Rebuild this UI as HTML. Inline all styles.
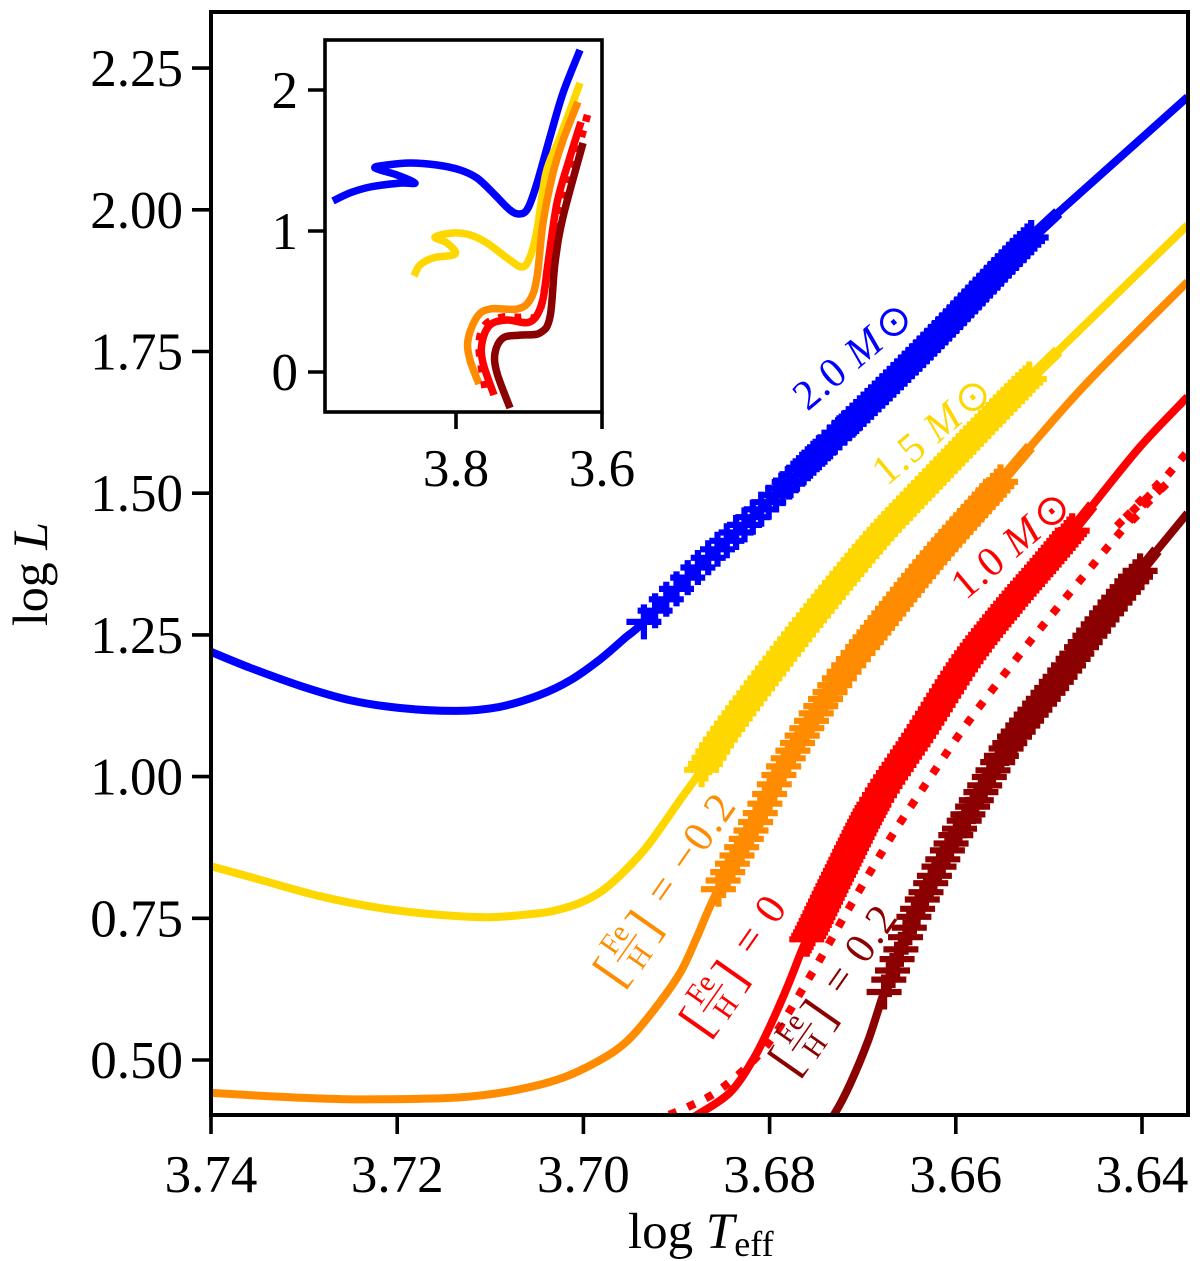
<!DOCTYPE html>
<html lang="en">
<head>
<meta charset="utf-8">
<title>HR diagram tracks</title>
<style>
html,body{margin:0;padding:0;background:#fff;}
svg{display:block;}
text{font-family:"Liberation Serif","DejaVu Serif",serif;}
</style>
</head>
<body>
<svg id="chart" xmlns="http://www.w3.org/2000/svg" width="1200" height="1261" viewBox="0 0 1200 1261">
  <defs>
    <clipPath id="main-clip"><rect x="211" y="12" width="977" height="1103"/></clipPath>
  </defs>
  <g id="main-series" clip-path="url(#main-clip)"></g>

  <g font-size="42" letter-spacing="1">
    <text fill="#0000ff" text-anchor="middle" transform="translate(862,366) rotate(-40)">2.0 <tspan font-style="italic">M</tspan><tspan font-family="DejaVu Sans" dx="3">⊙</tspan></text>
    <text fill="#ffd700" text-anchor="middle" transform="translate(941,441) rotate(-40)">1.5 <tspan font-style="italic">M</tspan><tspan font-family="DejaVu Sans" dx="3">⊙</tspan></text>
    <text fill="#ff0000" text-anchor="middle" transform="translate(1020,555) rotate(-40)">1.0 <tspan font-style="italic">M</tspan><tspan font-family="DejaVu Sans" dx="3">⊙</tspan></text>
  </g>

  <g fill="#ff8c00" transform="translate(627,948) rotate(-55)">
    <text x="-29" y="17" font-size="52" text-anchor="middle">[</text>
    <text x="0" y="-6" font-size="29" text-anchor="middle">Fe</text>
    <rect x="-17" y="-1" width="34" height="1.6"/>
    <text x="0" y="25" font-size="29" text-anchor="middle">H</text>
    <text x="29" y="17" font-size="52" text-anchor="middle">]</text>
    <text x="56" y="9" font-size="43" letter-spacing="2">= −0.2</text>
  </g>
  <g fill="#ff0000" transform="translate(713,998) rotate(-55)">
    <text x="-29" y="17" font-size="52" text-anchor="middle">[</text>
    <text x="0" y="-6" font-size="29" text-anchor="middle">Fe</text>
    <rect x="-17" y="-1" width="34" height="1.6"/>
    <text x="0" y="25" font-size="29" text-anchor="middle">H</text>
    <text x="29" y="17" font-size="52" text-anchor="middle">]</text>
    <text x="56" y="10" font-size="43" letter-spacing="2">= 0</text>
  </g>
  <g fill="#8b0000" transform="translate(802,1037) rotate(-55)">
    <text x="-29" y="17" font-size="52" text-anchor="middle">[</text>
    <text x="0" y="-6" font-size="29" text-anchor="middle">Fe</text>
    <rect x="-17" y="-1" width="34" height="1.6"/>
    <text x="0" y="25" font-size="29" text-anchor="middle">H</text>
    <text x="29" y="17" font-size="52" text-anchor="middle">]</text>
    <text x="56" y="11" font-size="43" letter-spacing="2">= 0.2</text>
  </g>

  <rect x="211" y="12" width="977" height="1103" fill="none" stroke="#000" stroke-width="4"/>
  <g id="main-axes"></g>

  <text x="628" y="1248" font-size="51">log <tspan font-style="italic">T</tspan><tspan font-size="36" dy="8">eff</tspan></text>
  <text text-anchor="middle" font-size="50" transform="translate(47,574) rotate(-90)">log <tspan font-style="italic">L</tspan></text>

  <g>
    <rect x="325" y="40" width="277" height="372" fill="#fff"/>
    <g id="inset-series"></g>
    <rect x="325" y="40" width="277" height="372" fill="none" stroke="#000" stroke-width="3.6"/>
    <g id="inset-axes"></g>
  </g>
</svg>

<script>
// ---------- main axis ticks ----------
const xTickValues = [3.74, 3.72, 3.70, 3.68, 3.66, 3.64];
const xTickLabels = ['3.74', '3.72', '3.70', '3.68', '3.66', '3.64'];
const yTickValues = [0.5, 0.75, 1.0, 1.25, 1.5, 1.75, 2.0, 2.25];
const yTickLabels = ['0.50', '0.75', '1.00', '1.25', '1.50', '1.75', '2.00', '2.25'];

// ---------- inset axis ticks ----------
const insetXTickValues = [3.8, 3.6];
const insetXTickLabels = ['3.8', '3.6'];
const insetYTickValues = [0, 1, 2];
const insetYTickLabels = ['0', '1', '2'];

// ---------- main tracks (log Teff, log L) ----------
const blueT = [3.7400,3.7358,3.7304,3.7251,3.7197,3.7136,3.7090,3.7047,3.7014,3.6982,3.6955,3.6935,3.6875,3.6810,3.6746,3.6681,3.6617,3.6553,3.6514,3.6445,3.6351];
const blueL = [1.220,1.192,1.160,1.135,1.121,1.116,1.123,1.144,1.170,1.207,1.245,1.273,1.372,1.470,1.573,1.677,1.783,1.894,1.959,2.061,2.199];
const yellowT = [3.7400,3.7347,3.7283,3.7218,3.7154,3.7100,3.7047,3.7025,3.7004,3.6982,3.6961,3.6932,3.6896,3.6873,3.6851,3.6812,3.6757,3.6692,3.6660,3.6628,3.6544,3.6520,3.6445,3.6351];
const yellowL = [0.842,0.818,0.789,0.768,0.756,0.752,0.759,0.766,0.777,0.796,0.825,0.876,0.959,1.012,1.070,1.158,1.276,1.407,1.465,1.520,1.664,1.703,1.823,1.973];
const orangeT = [3.7400,3.7326,3.7261,3.7197,3.7133,3.7079,3.7025,3.6982,3.6952,3.6923,3.6896,3.6878,3.6857,3.6814,3.6787,3.6759,3.6735,3.6705,3.6626,3.6553,3.6520,3.6456,3.6351];
const orangeL = [0.442,0.435,0.431,0.431,0.434,0.445,0.467,0.500,0.535,0.591,0.654,0.717,0.795,0.923,1.012,1.088,1.149,1.218,1.382,1.518,1.582,1.700,1.873];
const redT = [3.6896,3.6878,3.6843,3.6818,3.6800,3.6781,3.6764,3.6753,3.6725,3.6685,3.6638,3.6588,3.6542,3.6501,3.6470,3.6453,3.6402,3.6351];
const redL = [0.387,0.403,0.442,0.500,0.558,0.629,0.699,0.735,0.830,0.959,1.077,1.206,1.303,1.382,1.444,1.479,1.582,1.670];
const dottedT = [3.6928,3.6888,3.6850,3.6803,3.6757,3.6714,3.6670,3.6635,3.6586,3.6520,3.6452,3.6424,3.6357,3.6343];
const dottedL = [0.391,0.417,0.452,0.526,0.646,0.770,0.892,0.980,1.098,1.239,1.375,1.430,1.562,1.585];
const darkT = [3.6741,3.6731,3.6714,3.6694,3.6677,3.6663,3.6646,3.6627,3.6604,3.6576,3.6547,3.6515,3.6488,3.6445,3.6401,3.6351];
const darkL = [0.385,0.403,0.456,0.535,0.620,0.678,0.749,0.812,0.885,0.964,1.047,1.118,1.176,1.273,1.365,1.465];

// ---------- plus-marker positions along each track (log Teff) ----------
const blueMarks = [3.6935,3.6923,3.6911,3.6900,3.6888,3.6877,3.6866,3.6856,3.6846,3.6836,3.6827,3.6818,3.6809,3.6801,3.6793,3.6786,3.6779,3.6772,3.6765,3.6759,3.6753,3.6747,3.6741,3.6735,3.6730,3.6725,3.6720,3.6715,3.6711,3.6707,3.6703,3.6699,3.6695,3.6691,3.6687,3.6683,3.6679,3.6675,3.6671,3.6667,3.6663,3.6659,3.6655,3.6651,3.6647,3.6643,3.6639,3.6635,3.6631,3.6627,3.6623,3.6619,3.6615,3.6611,3.6607,3.6603,3.6599,3.6595,3.6591,3.6587,3.6583,3.6579,3.6575,3.6571,3.6567,3.6563,3.6559,3.6555,3.6551,3.6547,3.6543,3.6539,3.6535,3.6531,3.6527,3.6523,3.6519];
const yellowMarks = [3.6873,3.6869,3.6865,3.6861,3.6857,3.6853,3.6849,3.6845,3.6841,3.6837,3.6833,3.6829,3.6825,3.6821,3.6817,3.6813,3.6809,3.6805,3.6801,3.6797,3.6793,3.6789,3.6785,3.6781,3.6777,3.6773,3.6769,3.6765,3.6761,3.6757,3.6753,3.6749,3.6745,3.6741,3.6737,3.6733,3.6729,3.6725,3.6721,3.6717,3.6713,3.6709,3.6705,3.6701,3.6697,3.6693,3.6689,3.6685,3.6681,3.6677,3.6673,3.6669,3.6665,3.6661,3.6657,3.6653,3.6649,3.6645,3.6641,3.6637,3.6633,3.6629,3.6625,3.6621,3.6617,3.6613,3.6609,3.6605,3.6601,3.6597,3.6593,3.6589,3.6585,3.6581,3.6577,3.6573,3.6569,3.6565,3.6561,3.6557,3.6553,3.6549,3.6545,3.6541,3.6537,3.6533,3.6529,3.6525,3.6521];
const orangeMarks = [3.6855,3.6850,3.6845,3.6840,3.6835,3.6830,3.6825,3.6820,3.6815,3.6810,3.6805,3.6800,3.6795,3.6790,3.6785,3.6780,3.6775,3.6770,3.6765,3.6760,3.6755,3.6750,3.6745,3.6740,3.6735,3.6730,3.6725,3.6720,3.6715,3.6710,3.6705,3.6700,3.6696,3.6692,3.6688,3.6684,3.6680,3.6676,3.6672,3.6668,3.6664,3.6660,3.6656,3.6652,3.6648,3.6644,3.6640,3.6636,3.6632,3.6628,3.6624,3.6620,3.6616,3.6612,3.6608,3.6604,3.6600,3.6596,3.6592,3.6588,3.6584,3.6580,3.6576,3.6572,3.6568,3.6564,3.6560,3.6556,3.6552];
const redMarks = [3.6760,3.6758,3.6756,3.6754,3.6752,3.6750,3.6748,3.6746,3.6744,3.6742,3.6740,3.6738,3.6736,3.6734,3.6732,3.6730,3.6728,3.6726,3.6724,3.6722,3.6720,3.6718,3.6716,3.6714,3.6712,3.6710,3.6708,3.6706,3.6704,3.6702,3.6700,3.6698,3.6696,3.6694,3.6692,3.6690,3.6688,3.6685,3.6682,3.6679,3.6676,3.6673,3.6670,3.6667,3.6664,3.6661,3.6658,3.6655,3.6652,3.6649,3.6646,3.6643,3.6640,3.6637,3.6634,3.6631,3.6628,3.6625,3.6622,3.6619,3.6616,3.6613,3.6610,3.6607,3.6604,3.6601,3.6598,3.6595,3.6592,3.6589,3.6586,3.6583,3.6580,3.6577,3.6574,3.6571,3.6568,3.6565,3.6562,3.6559,3.6556,3.6553,3.6550,3.6547,3.6544,3.6541,3.6538,3.6535,3.6532,3.6529,3.6526,3.6523,3.6520,3.6517,3.6514,3.6511,3.6508,3.6505,3.6502,3.6499,3.6496,3.6493,3.6490,3.6487,3.6484,3.6481,3.6478,3.6475];
const darkMarks = [3.6677,3.6672,3.6668,3.6663,3.6659,3.6654,3.6650,3.6645,3.6641,3.6636,3.6632,3.6627,3.6623,3.6618,3.6614,3.6609,3.6605,3.6600,3.6596,3.6591,3.6587,3.6582,3.6578,3.6573,3.6569,3.6564,3.6560,3.6555,3.6551,3.6546,3.6542,3.6537,3.6533,3.6528,3.6524,3.6519,3.6515,3.6510,3.6506,3.6501,3.6497,3.6492,3.6488,3.6483,3.6479,3.6474,3.6470,3.6465,3.6461,3.6456,3.6452,3.6447,3.6443,3.6438,3.6434,3.6429,3.6425,3.6420,3.6416,3.6411,3.6407,3.6402];

// ---------- thicker end-of-band stubs (start and end log Teff) ----------
const blueStub = [3.6525, 3.6490];
const yellowStub = [3.6525, 3.6490];
const orangeStub = [3.6556, 3.6520];
const redStub = [3.6480, 3.6453];
const darkStub = [3.6410, 3.6384];

// ---------- stray end-of-track dots on the dotted track ----------
const dottedExtraT = [3.6424,3.6415,3.6408,3.6408,3.6394,3.6394,3.6402,3.6384,3.6377,3.6381];
const dottedExtraL = [1.447,1.462,1.456,1.472,1.483,1.493,1.486,1.514,1.511,1.506];

// ---------- inset tracks (log Teff, log L) ----------
const insetBlueT = [3.9685,3.9452,3.9178,3.8767,3.8562,3.8808,3.9110,3.8945,3.8630,3.8260,3.7945,3.7712,3.7493,3.7260,3.7123,3.7014,3.6890,3.6712,3.6534,3.6301];
const insetBlueL = [1.213,1.270,1.312,1.340,1.340,1.397,1.447,1.468,1.482,1.468,1.433,1.376,1.270,1.149,1.121,1.163,1.340,1.667,1.979,2.284];
const insetYellowT = [3.8575,3.8493,3.8315,3.8014,3.8123,3.8288,3.8041,3.7808,3.7575,3.7301,3.7096,3.6986,3.6890,3.6767,3.6575,3.6301];
const insetYellowL = [0.681,0.759,0.809,0.837,0.915,0.957,0.986,0.972,0.915,0.809,0.745,0.816,1.007,1.411,1.666,2.050];
const insetOrangeT = [3.7685,3.7808,3.7836,3.7712,3.7534,3.7164,3.6986,3.6890,3.6808,3.6671,3.6534,3.6329];
const insetOrangeL = [-0.085,0.085,0.227,0.390,0.447,0.447,0.511,0.674,1.057,1.411,1.645,1.915];
const insetRedT = [3.7479,3.7630,3.7644,3.7534,3.7301,3.6986,3.6822,3.6740,3.6616,3.6438,3.6288];
const insetRedL = [-0.163,0.064,0.206,0.333,0.369,0.355,0.489,0.773,1.199,1.525,1.773];
const insetDottedT = [3.7603,3.7685,3.7603,3.7356,3.7082,3.6849,3.6671,3.6479,3.6192];
const insetDottedL = [-0.113,0.177,0.333,0.390,0.390,0.440,0.957,1.291,1.837];
const insetDarkT = [3.7260,3.7438,3.7466,3.7356,3.7123,3.6849,3.6712,3.6644,3.6534,3.6260];
const insetDarkL = [-0.255,-0.007,0.135,0.241,0.262,0.277,0.390,0.773,1.099,1.624];

// ---------- axis functions ----------
function xMain(t) { return 211 + (3.74 - t) * 9310; }
function yMain(l) { return 1060 - (l - 0.5) * 566.8; }
function xInset(t) { return 602 - (t - 3.6) * 730; }
function yInset(l) { return 372 - l * 141; }

const SVGNS = 'http://www.w3.org/2000/svg';

function splinePath(ts, ls, xf, yf) {
  const p = ts.map(function (t, i) { return [xf(t), yf(ls[i])]; });
  let d = 'M' + p[0][0].toFixed(1) + ' ' + p[0][1].toFixed(1);
  for (let i = 0; i < p.length - 1; i++) {
    const a = p[Math.max(i - 1, 0)], b = p[i], c = p[i + 1], e = p[Math.min(i + 2, p.length - 1)];
    const c1x = b[0] + (c[0] - a[0]) / 6, c1y = b[1] + (c[1] - a[1]) / 6;
    const c2x = c[0] - (e[0] - b[0]) / 6, c2y = c[1] - (e[1] - b[1]) / 6;
    d += 'C' + c1x.toFixed(1) + ' ' + c1y.toFixed(1) + ' ' + c2x.toFixed(1) + ' ' + c2y.toFixed(1) + ' ' + c[0].toFixed(1) + ' ' + c[1].toFixed(1);
  }
  return d;
}

function bez(p0, p1, p2, p3, u) {
  const v = 1 - u;
  return v * v * v * p0 + 3 * v * v * u * p1 + 3 * v * u * u * p2 + u * u * u * p3;
}

// luminosity on the same spline that draws the track, at temperature t
function lumAt(ts, ls, t) {
  for (let i = 0; i < ts.length - 1; i++) {
    if (t <= ts[i] && t >= ts[i + 1]) {
      const im = Math.max(i - 1, 0), ip = Math.min(i + 2, ts.length - 1);
      const t1 = ts[i] + (ts[i + 1] - ts[im]) / 6, t2 = ts[i + 1] - (ts[ip] - ts[i]) / 6;
      const l1 = ls[i] + (ls[i + 1] - ls[im]) / 6, l2 = ls[i + 1] - (ls[ip] - ls[i]) / 6;
      let lo = 0, hi = 1;
      for (let k = 0; k < 30; k++) {
        const m = (lo + hi) / 2;
        if (bez(ts[i], t1, t2, ts[i + 1], m) > t) lo = m; else hi = m;
      }
      return bez(ls[i], l1, l2, ls[i + 1], (lo + hi) / 2);
    }
  }
  return ls[ls.length - 1];
}

function drawTrack(parent, ts, ls, xf, yf, color, width, dash, name) {
  const el = document.createElementNS(SVGNS, 'path');
  el.setAttribute('d', splinePath(ts, ls, xf, yf));
  el.setAttribute('fill', 'none');
  el.setAttribute('stroke', color);
  el.setAttribute('stroke-width', width);
  el.setAttribute('stroke-linejoin', 'round');
  if (dash) el.setAttribute('stroke-dasharray', dash);
  
  
  parent.appendChild(el);
}

function drawMarks(parent, marks, ts, ls, color, name) {
  marks.forEach(function (t) {
    const x = xMain(t), y = yMain(lumAt(ts, ls, t));
    const el = document.createElementNS(SVGNS, 'path');
    el.setAttribute('d', 'M' + (x - 17.5).toFixed(1) + ' ' + y.toFixed(1) + 'H' + (x + 17.5).toFixed(1) + 'M' + x.toFixed(1) + ' ' + (y - 17.5).toFixed(1) + 'V' + (y + 17.5).toFixed(1));
    el.setAttribute('fill', 'none');
    el.setAttribute('stroke', color);
    el.setAttribute('stroke-width', '6.2');
    
    
    parent.appendChild(el);
  });
}

function drawStub(parent, stub, ts, ls, color, name) {
  const el = document.createElementNS(SVGNS, 'line');
  el.setAttribute('x1', xMain(stub[0]));
  el.setAttribute('y1', yMain(lumAt(ts, ls, stub[0])));
  el.setAttribute('x2', xMain(stub[1]));
  el.setAttribute('y2', yMain(lumAt(ts, ls, stub[1])));
  el.setAttribute('stroke', color);
  el.setAttribute('stroke-width', '12');
  
  
  parent.appendChild(el);
}

function drawTick(parent, x1, y1, x2, y2, name) {
  const el = document.createElementNS(SVGNS, 'line');
  el.setAttribute('x1', x1);
  el.setAttribute('y1', y1);
  el.setAttribute('x2', x2);
  el.setAttribute('y2', y2);
  el.setAttribute('stroke', '#000');
  el.setAttribute('stroke-width', '3.6');
  
  
  parent.appendChild(el);
}

function drawLabel(parent, x, y, anchor, str, name) {
  const el = document.createElementNS(SVGNS, 'text');
  el.setAttribute('x', x);
  el.setAttribute('y', y);
  el.setAttribute('text-anchor', anchor);
  el.setAttribute('font-size', '53');
  el.textContent = str;
  
  
  parent.appendChild(el);
}

// ---------- main plot ----------
const mainG = document.getElementById('main-series');
drawTrack(mainG, blueT, blueL, xMain, yMain, '#0000ff', 8, null, 'track-2-0-msun');
drawStub(mainG, blueStub, blueT, blueL, '#0000ff', 'stub-2-0-msun');
drawMarks(mainG, blueMarks, blueT, blueL, '#0000ff', 'marker-2-0-msun');
drawTrack(mainG, yellowT, yellowL, xMain, yMain, '#ffd700', 8, null, 'track-1-5-msun');
drawStub(mainG, yellowStub, yellowT, yellowL, '#ffd700', 'stub-1-5-msun');
drawMarks(mainG, yellowMarks, yellowT, yellowL, '#ffd700', 'marker-1-5-msun');
drawTrack(mainG, orangeT, orangeL, xMain, yMain, '#ff8c00', 8, null, 'track-feh-minus-0-2');
drawStub(mainG, orangeStub, orangeT, orangeL, '#ff8c00', 'stub-feh-minus-0-2');
drawMarks(mainG, orangeMarks, orangeT, orangeL, '#ff8c00', 'marker-feh-minus-0-2');
drawTrack(mainG, redT, redL, xMain, yMain, '#ff0000', 8, null, 'track-feh-0');
drawStub(mainG, redStub, redT, redL, '#ff0000', 'stub-feh-0');
drawMarks(mainG, redMarks, redT, redL, '#ff0000', 'marker-feh-0');
drawTrack(mainG, dottedT, dottedL, xMain, yMain, '#ff0000', 8, '8 12', 'track-1-0-msun-dotted');
dottedExtraT.forEach(function (t, i) {
  const el = document.createElementNS(SVGNS, 'rect');
  el.setAttribute('x', xMain(t) - 4);
  el.setAttribute('y', yMain(dottedExtraL[i]) - 4);
  el.setAttribute('width', 8);
  el.setAttribute('height', 8);
  el.setAttribute('fill', '#ff0000');
  el.setAttribute('transform', 'rotate(45 ' + xMain(t) + ' ' + yMain(dottedExtraL[i]) + ')');
  
  
  mainG.appendChild(el);
});
drawTrack(mainG, darkT, darkL, xMain, yMain, '#8b0000', 8, null, 'track-feh-0-2');
drawStub(mainG, darkStub, darkT, darkL, '#8b0000', 'stub-feh-0-2');
drawMarks(mainG, darkMarks, darkT, darkL, '#8b0000', 'marker-feh-0-2');

// ---------- main axes ----------
const axG = document.getElementById('main-axes');
xTickValues.forEach(function (v, i) {
  const x = xMain(v);
  drawTick(axG, x, 1115, x, 1134, 'x-tick');
  drawLabel(axG, x, 1192, 'middle', xTickLabels[i], 'x-tick-label');
});
yTickValues.forEach(function (v, i) {
  const y = yMain(v);
  drawTick(axG, 192, y, 211, y, 'y-tick');
  drawLabel(axG, 183, y + 18, 'end', yTickLabels[i], 'y-tick-label');
});

// ---------- inset ----------
const inG = document.getElementById('inset-series');
drawTrack(inG, insetBlueT, insetBlueL, xInset, yInset, '#0000ff', 7.5, null, 'inset-track-2-0-msun');
drawTrack(inG, insetYellowT, insetYellowL, xInset, yInset, '#ffd700', 7.5, null, 'inset-track-1-5-msun');
drawTrack(inG, insetOrangeT, insetOrangeL, xInset, yInset, '#ff8c00', 7.5, null, 'inset-track-feh-minus-0-2');
drawTrack(inG, insetDottedT, insetDottedL, xInset, yInset, '#ff0000', 7.5, '7 9', 'inset-track-dotted');
drawTrack(inG, insetRedT, insetRedL, xInset, yInset, '#ff0000', 7.5, null, 'inset-track-feh-0');
drawTrack(inG, insetDarkT, insetDarkL, xInset, yInset, '#8b0000', 7.5, null, 'inset-track-feh-0-2');

const inAx = document.getElementById('inset-axes');
insetXTickValues.forEach(function (v, i) {
  const x = xInset(v);
  drawTick(inAx, x, 412, x, 429, 'inset-x-tick');
  drawLabel(inAx, x, 486, 'middle', insetXTickLabels[i], 'inset-x-tick-label');
});
insetYTickValues.forEach(function (v, i) {
  const y = yInset(v);
  drawTick(inAx, 308, y, 325, y, 'inset-y-tick');
  drawLabel(inAx, 298, y + 18, 'end', insetYTickLabels[i], 'inset-y-tick-label');
});
</script>
</body>
</html>
